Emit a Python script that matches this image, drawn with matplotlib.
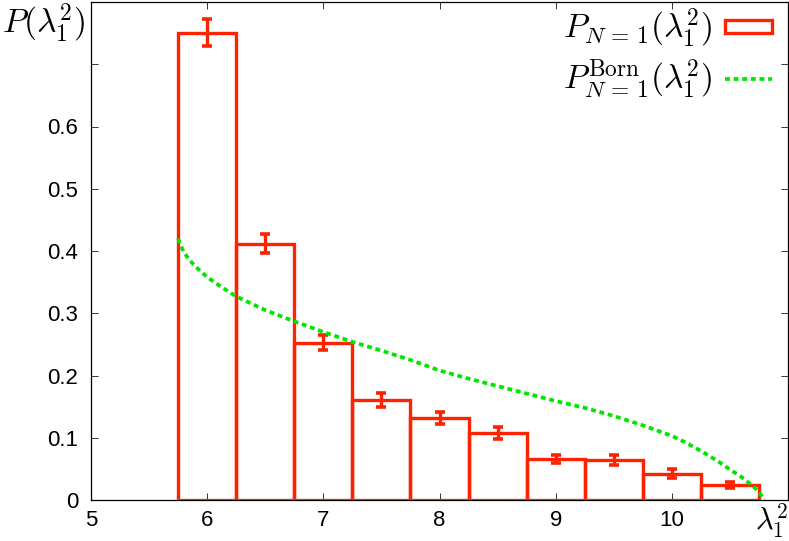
import numpy as np
import matplotlib.pyplot as plt
from matplotlib.patches import Rectangle
from matplotlib.lines import Line2D

plt.rcParams['mathtext.fontset'] = 'cm'
plt.rcParams['font.family'] = 'Liberation Sans'

# histogram P_{N=1}(lambda_1^2)
centers = [6.0, 6.5, 7.0, 7.5, 8.0, 8.5, 9.0, 9.5, 10.0, 10.5]
heights = [0.751, 0.412, 0.253, 0.161, 0.132, 0.108, 0.066, 0.064, 0.042, 0.024]
errs = [0.022, 0.016, 0.012, 0.011, 0.010, 0.010, 0.007, 0.008, 0.007, 0.005]
bin_width = 0.5

# Born curve
born_x = [5.75, 5.77, 5.8, 5.85, 5.9, 6.0, 6.1, 6.25, 6.5, 6.75, 7.0, 7.25,
          7.5, 7.75, 8.0, 8.25, 8.5, 8.75, 9.0, 9.25, 9.5, 9.75, 10.0, 10.1,
          10.25, 10.4, 10.5, 10.6, 10.7, 10.75, 10.78, 10.8]
born_y = [0.42, 0.41, 0.398, 0.385, 0.375, 0.358, 0.345, 0.327, 0.305, 0.287,
          0.27, 0.254, 0.24, 0.225, 0.208, 0.195, 0.183, 0.171, 0.159, 0.148,
          0.135, 0.12, 0.103, 0.094, 0.079, 0.062, 0.049, 0.037, 0.022, 0.013,
          0.005, 0.0]

xticks = [5, 6, 7, 8, 9, 10, 11]
xlabels = ['5', '6', '7', '8', '9', '10', '']
yticks = [0, 0.1, 0.2, 0.3, 0.4, 0.5, 0.6, 0.7, 0.8]
ylabels = ['0', '0.1', '0.2', '0.3', '0.4', '0.5', '0.6', '', '']

red = '#ff2200'
green = '#00e600'
dots = (0, (1.3, 1.0))

fig = plt.figure(figsize=(7.89, 5.41), dpi=100)
ax = fig.add_axes([91/789, 41/541, 697/789, 498/541])

ax.bar(centers, heights, width=bin_width, fill=False, edgecolor=red,
       linewidth=2.4, zorder=3)
ax.errorbar(centers, heights, yerr=errs, fmt='none', ecolor=red,
            elinewidth=2.4, capsize=3.5, capthick=2.6, zorder=4)
ax.plot(born_x, born_y, color=green, linewidth=2.7, linestyle=dots, zorder=5)

ax.set_xlim(5, 11)
ax.set_ylim(0, 0.8)
ax.set_xticks(xticks)
ax.set_xticklabels(xlabels)
ax.set_yticks(yticks)
ax.set_yticklabels(ylabels)

ax.tick_params(direction='in', length=5, width=0.7, top=True, right=True,
               labelsize=16, color='#333333')
ax.tick_params(axis='x', pad=7)
ax.tick_params(axis='y', pad=9)
for s in ax.spines.values():
    s.set_linewidth(0.9)

# axis names placed like gnuplot does, at the ends of the axes
ax.annotate(r'$\lambda_1^2$', xy=(11, 0), xytext=(0, -1),
            textcoords='offset points', xycoords=ax.get_xaxis_transform(),
            ha='right', va='top', fontsize=22, annotation_clip=False)
ax.text(-0.008, 0.765, r'$P(\lambda_1^2)$', transform=ax.get_yaxis_transform(),
        ha='right', va='center', fontsize=24)

handles = [Rectangle((0, 0), 1, 1, facecolor='white', edgecolor=red, linewidth=2.4),
           Line2D([], [], color=green, linewidth=2.7, linestyle=dots)]
names = [r'$P_{N\,=\,1}(\lambda_1^2)$', r'$P_{N\,=\,1}^{\mathrm{Born}}(\lambda_1^2)$']
ax.legend(handles, names, loc='upper right', frameon=False, markerfirst=False,
          fontsize=24, handlelength=1.4, handleheight=0.22, handletextpad=0.4,
          labelspacing=0.2, borderaxespad=0.0, borderpad=0.0,
          bbox_to_anchor=(0.977, 0.99))

fig.savefig('out.png', dpi=100)
